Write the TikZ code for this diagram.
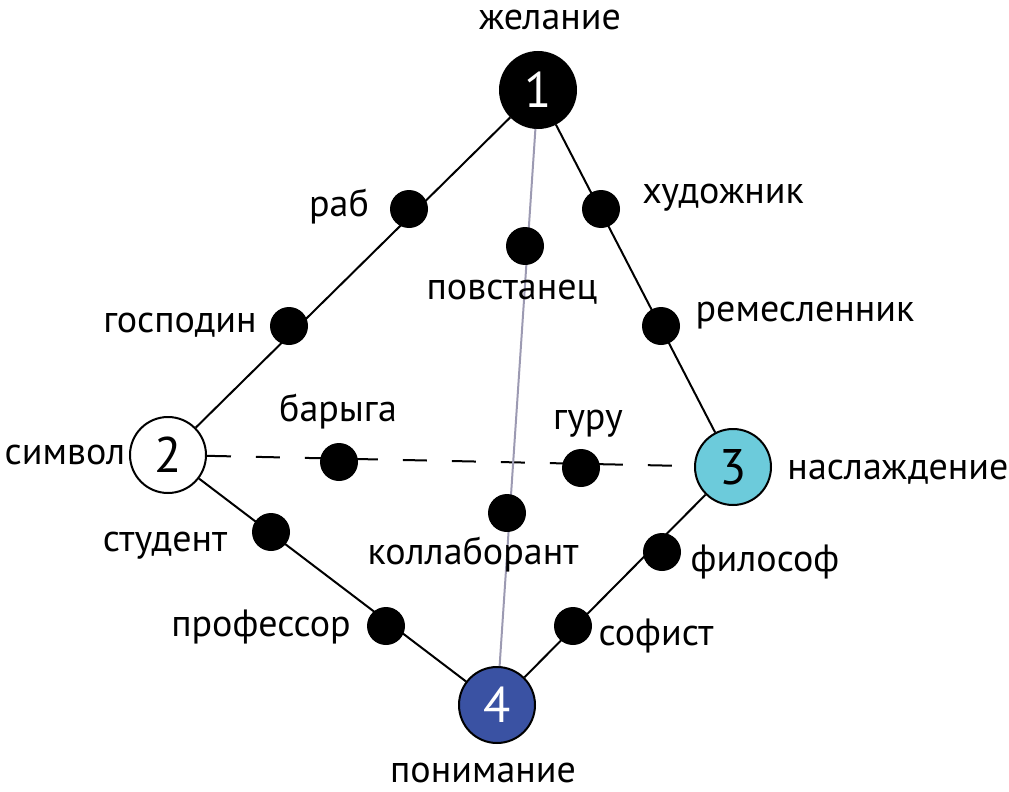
\documentclass[tikz,border=0pt]{standalone}
\usepackage{fontspec}
\setmainfont{PT Sans}
\usepackage{tikz}
\tikzset{>=latex}
\definecolor{cyanfill}{HTML}{6CCBDB}
\definecolor{bluefill}{HTML}{3A52A3}
\definecolor{greyline}{HTML}{9C9AB2}
\tikzset{
  big/.style={circle,draw=black,line width=2pt,minimum size=76pt,inner sep=0pt,font=\fontsize{50}{50}\selectfont},
  dot/.style={circle,fill=black,minimum size=38pt,inner sep=0pt},
  lbl/.style={font=\fontsize{38}{38}\selectfont,inner sep=0pt},
  edge/.style={line width=2pt},
}

\begin{document}
\begin{tikzpicture}[x=1pt,y=-1pt]
            \useasboundingbox (0,0) rectangle (1009,792);
            % main nodes
            \node[big,fill=black,text=white] (n1) at (538,90) {1};
            \node[big,fill=white] (n2) at (168,455) {2};
            \node[big,fill=cyanfill] (n3) at (733,467) {3};
            \node[big,fill=bluefill,text=white] (n4) at (497,705) {4};
            % lines
            \draw[edge] (n1) -- (n2);
            \draw[edge] (n1) -- (n3);
            \draw[edge] (n2) -- (n4);
            \draw[edge] (n3) -- (n4);
            \draw[edge,dash pattern=on 24pt off 25pt] (n2) -- (n3);
            \draw[line width=2pt,greyline] (n1) -- (n4);
            % small dots
            \node[dot] (rab) at (409,209) {};
            \node[dot] (gos) at (289,326) {};
            \node[dot] (hud) at (601,209) {};
            \node[dot] (rem) at (661,326) {};
            \node[dot] (pov) at (525,246) {};
            \node[dot] (bar) at (339,462) {};
            \node[dot] (gur) at (581,468) {};
            \node[dot] (kol) at (507,513) {};
            \node[dot] (stu) at (271,532) {};
            \node[dot] (pro) at (386,626) {};
            \node[dot] (fil) at (662,552) {};
            \node[dot] (sof) at (573,626) {};
            % labels
            \node[lbl] (l1) at (550,20) {желание};
            \node[lbl] (l2) at (65,455) {символ};
            \node[lbl] (l3) at (898,472) {наслаждение};
            \node[lbl] (l4) at (483,773) {понимание};
            \node[lbl] (lrab) at (339,207) {раб};
            \node[lbl] (lgos) at (180,325) {господин};
            \node[lbl] (lhud) at (723,198) {художник};
            \node[lbl] (lrem) at (805,316) {ремесленник};
            \node[lbl] (lpov) at (512,292) {повстанец};
            \node[lbl] (lbar) at (338,412) {барыга};
            \node[lbl] (lgur) at (588,424) {гуру};
            \node[lbl] (lkol) at (473,555) {коллаборант};
            \node[lbl] (lstu) at (165,546) {студент};
            \node[lbl] (lpro) at (261,627) {профессор};
            \node[lbl] (lfil) at (765,562) {философ};
            \node[lbl] (lsof) at (656,636) {софист};
        \end{tikzpicture}
\end{document}
